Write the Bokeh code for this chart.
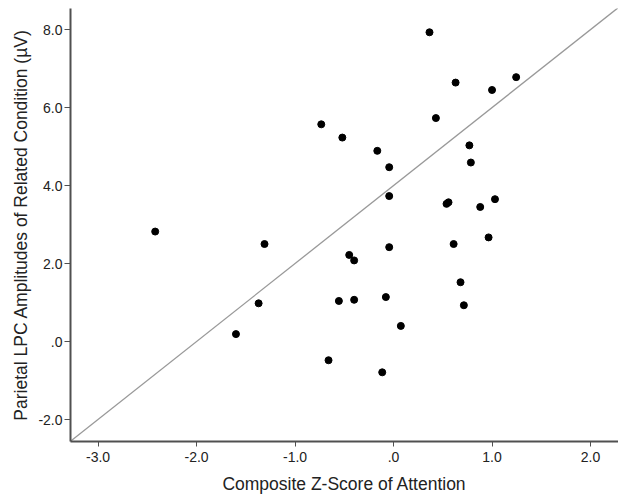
from bokeh.plotting import figure
from bokeh.models import FixedTicker, Range1d
from bokeh.embed import file_html
from bokeh.resources import INLINE

# Data
attention_z = [0.365, 0.63, 1.00, 1.245, -0.734, -0.52, 0.43, -0.165, -0.044, 0.77,
               0.785, -0.044, 0.538, 0.558, 0.88, 1.03, -1.31, -0.044, 0.61, 0.965,
               -0.45, -0.40, 0.68, 0.714, -1.37, -0.555, -0.40, -0.078, 0.074, -1.60,
               -0.66, -0.115, -2.42]
lpc_amplitude = [7.93, 6.64, 6.45, 6.78, 5.57, 5.23, 5.73, 4.89, 4.47, 5.03,
                 4.59, 3.73, 3.53, 3.57, 3.45, 3.65, 2.50, 2.42, 2.50, 2.67,
                 2.22, 2.08, 1.52, 0.93, 0.98, 1.04, 1.07, 1.14, 0.40, 0.19,
                 -0.48, -0.79, 2.82]

ref_line_x = [-3.28, 2.28]
ref_line_y = [-2.56, 8.56]

x_ticks = [-3, -2, -1, 0, 1, 2]
x_tick_labels = ["-3.0", "-2.0", "-1.0", ".0", "1.0", "2.0"]
y_ticks = [-2, 0, 2, 4, 6, 8]
y_tick_labels = ["-2.0", ".0", "2.0", "4.0", "6.0", "8.0"]

x_title = "Composite Z-Score of Attention"
y_title = "Parietal LPC Amplitudes of Related Condition (\u00b5V)"

p = figure(width=618, height=496, output_backend="svg", toolbar_location=None,
           x_range=Range1d(-3.28, 2.284), y_range=Range1d(-2.564, 8.54),
           min_border_left=70, min_border_right=0, min_border_top=8, min_border_bottom=55)
p.outline_line_color = None
p.grid.visible = False
p.background_fill_color = "white"

p.line(ref_line_x, ref_line_y, line_color="#999999", line_width=1.3)
p.scatter(attention_z, lpc_amplitude, size=7, marker="circle",
          fill_color="black", line_color="black")

axis_color = "#505050"
for ax in (p.xaxis[0], p.yaxis[0]):
    ax.axis_line_color = axis_color
    ax.axis_line_width = 2
    ax.major_tick_line_color = axis_color
    ax.major_tick_line_width = 1
    ax.minor_tick_line_color = None
    ax.major_tick_in = 0
    ax.major_tick_out = 6
    ax.major_label_text_font = "Liberation Sans"
    ax.major_label_text_font_size = "14px"
    ax.major_label_text_color = "#222222"
    ax.axis_label_text_font = "Liberation Sans"
    ax.axis_label_text_font_size = "17.5px"
    ax.axis_label_text_font_style = "normal"
    ax.axis_label_text_color = "#222222"

p.xaxis[0].ticker = FixedTicker(ticks=x_ticks)
p.xaxis[0].major_label_overrides = dict(zip(x_ticks, x_tick_labels))
p.xaxis[0].axis_label = x_title
p.xaxis[0].major_tick_out = 5
p.xaxis[0].major_label_standoff = 5
p.xaxis[0].axis_label_standoff = 9

p.yaxis[0].ticker = FixedTicker(ticks=y_ticks)
p.yaxis[0].major_label_overrides = dict(zip(y_ticks, y_tick_labels))
p.yaxis[0].axis_label = y_title
p.yaxis[0].major_label_standoff = 2
p.yaxis[0].axis_label_standoff = 4

open("out.html", "w").write(file_html(p, INLINE))
